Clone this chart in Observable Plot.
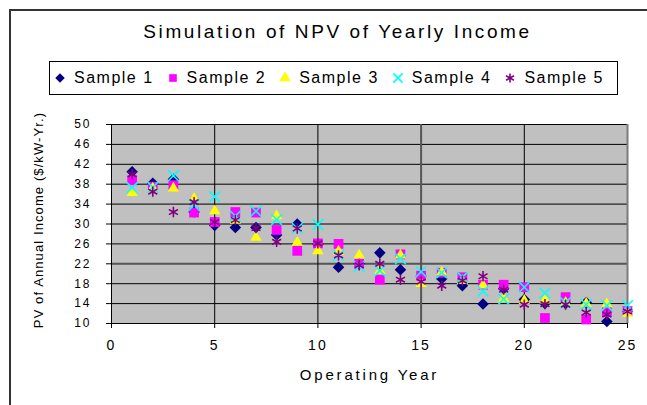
<!DOCTYPE html>
<html>
<head>
<meta charset="utf-8">
<script src="https://cdn.jsdelivr.net/npm/d3@7"></script>
<script src="https://cdn.jsdelivr.net/npm/@observablehq/plot@0.6"></script>
<style>
  body { margin: 0; background: #fff; font-family: "Liberation Sans", Arial, sans-serif; }
  #wrap { position: relative; width: 647px; height: 405px; overflow: hidden; background: #fff; }
  #frame { position: absolute; left: 9px; top: 9px; width: 680px; height: 430px; border: 2px solid #333; box-sizing: border-box; }
  #title { position: absolute; left: 0; width: 675px; top: 22px; text-align: center; font-size: 19px; line-height: 19px; letter-spacing: 2.6px; color: #000; white-space: nowrap; }
  #legend { position: absolute; left: 49px; top: 61px; width: 569px; height: 34px; border: 1px solid #000; box-sizing: border-box; display: flex; align-items: center; padding-left: 4px; background: #fff; }
  .item { display: flex; align-items: center; margin-right: 13px; }
  .item svg { width: 12px; height: 12px; display: block; }
  .item span { margin-left: 8px; font-size: 16px; letter-spacing: 1.5px; white-space: nowrap; }
  #chart { position: absolute; left: 0; top: 99px; }
  #chart g[aria-label="x-axis tick label"] text { letter-spacing: 2px; }
  #chart g[aria-label="y-axis tick label"] text { letter-spacing: 2px; }
  #chart .ylab text { letter-spacing: 1.1px; }
  #chart .xlab text { letter-spacing: 2.8px; }
</style>
</head>
<body>
<div id="wrap">
  <div id="frame"></div>
  <div id="title"></div>
  <div id="legend"></div>
  <div id="chart"></div>
</div>
<script>
// ---- data ----
const years   = [1, 2, 3, 4, 5, 6, 7, 8, 9, 10, 11, 12, 13, 14, 15, 16, 17, 18, 19, 20, 21, 22, 23, 24, 25];
const sample1 = [40.5, 38.2, 39.0, 32.4, 29.7, 29.3, 29.3, 27.8, 30.0, 26.0, 21.3, 22.0, 24.2, 20.8, 19.5, 19.0, 17.6, 13.9, 17.0, 14.8, 14.0, 14.0, 14.2, 10.4, 12.5];
const sample2 = [38.8, 37.5, 37.8, 32.3, 30.4, 32.4, 32.3, 28.8, 24.6, 26.1, 26.0, 22.0, 18.8, 23.9, 19.6, 20.2, 19.3, 17.8, 17.8, 17.3, 11.1, 15.3, 10.8, 12.3, 12.5];
const sample3 = [36.3, 37.2, 37.2, 35.1, 32.6, 30.7, 27.3, 31.6, 26.3, 24.6, 24.5, 23.7, 20.6, 23.7, 18.0, 20.3, 18.6, 17.7, 15.0, 14.6, 14.7, 14.2, 14.0, 13.9, 12.0];
const sample4 = [37.3, 37.4, 39.7, 33.8, 35.5, 31.6, 32.6, 30.9, 29.1, 29.9, 23.7, 21.5, 20.6, 23.0, 20.4, 20.2, 19.3, 16.5, 14.9, 17.3, 16.1, 14.2, 13.8, 13.6, 13.6];
const sample5 = [40.0, 36.5, 32.4, 34.4, 30.4, 30.8, 29.2, 26.4, 29.1, 26.1, 23.7, 21.7, 22.0, 18.8, 18.4, 17.6, 18.6, 19.5, 16.8, 13.8, 13.9, 13.8, 12.2, 11.8, 12.4];
const seriesNames = ["Sample 1", "Sample 2", "Sample 3", "Sample 4", "Sample 5"];
const yTicks = [10, 14, 18, 22, 26, 30, 34, 38, 42, 46, 50];
const xTicks = [0, 5, 10, 15, 20, 25];
const xGrid  = [5, 10, 15, 20];
const titleText = "Simulation of NPV of Yearly Income";
const xLabel = "Operating Year";
const yLabel = "PV of Annual Income ($/kW-Yr.)";

// ---- styles ----
const seriesValues = [sample1, sample2, sample3, sample4, sample5];
const styles = [
  {symbol: "diamond2", fill: "#000080", stroke: "none", r: 5.2, sym: d3.symbolDiamond2, filled: true},
  {symbol: "square",   fill: "#ff00ff", stroke: "none", r: 5.5, sym: d3.symbolSquare, filled: true},
  {symbol: "triangle", fill: "#ffff00", stroke: "none", r: 4.2, sym: d3.symbolTriangle, filled: true},
  {symbol: "times",    fill: "none", stroke: "#00ffff", strokeWidth: 1.6, r: 4.9, sym: d3.symbolTimes, filled: false},
  {symbol: "asterisk", fill: "none", stroke: "#800080", strokeWidth: 1.6, r: 4.9, sym: d3.symbolAsterisk, filled: false}
];

document.getElementById("title").textContent = titleText;

// legend
const legend = document.getElementById("legend");
seriesNames.forEach((name, i) => {
  const st = styles[i];
  const item = document.createElement("div");
  item.className = "item";
  const p = d3.symbol(st.sym, 4.3 * 4.3 * Math.PI)();
  item.innerHTML = `<svg viewBox="-6 -6 12 12"><path d="${p}" fill="${st.filled ? st.fill : "none"}" stroke="${st.filled ? "none" : st.stroke}" stroke-width="${st.filled ? 0 : 1.6}"/></svg><span>${name}</span>`;
  legend.appendChild(item);
});

const dotMarks = seriesValues.map((vals, i) => {
  const st = styles[i];
  const pts = years.map((x, j) => ({x, y: vals[j]}));
  const o = {x: "x", y: "y", symbol: st.symbol, r: st.r, fill: st.fill, stroke: st.stroke};
  if (st.strokeWidth) o.strokeWidth = st.strokeWidth;
  return Plot.dot(pts, o);
});

const chart = Plot.plot({
  width: 647,
  height: 306,
  marginLeft: 111,
  marginRight: 20,
  marginTop: 25,
  marginBottom: 82,
  x: {domain: [0, 25]},
  y: {domain: [10, 50]},
  style: {fontFamily: "'Liberation Sans', Arial, sans-serif", background: "transparent", color: "#000", overflow: "visible"},
  marks: [
    Plot.frame({fill: "#c0c0c0", stroke: "none"}),
    Plot.ruleY(yTicks, {stroke: d => d === 22 ? "#555" : "#000", strokeWidth: d => d === 22 ? 2 : 1}),
    Plot.ruleX(xGrid, {stroke: d => d === 15 ? "#555" : "#000", strokeWidth: d => d === 15 ? 2 : 1}),
    Plot.ruleX([25], {stroke: "#7a7a7a", strokeWidth: 2}),
    Plot.ruleX([0], {stroke: "#000"}),
    Plot.ruleY([10], {stroke: "#000"}),
    Plot.axisY({ticks: yTicks, tickSize: 5, tickPadding: 15, fontSize: 12, label: null, stroke: "#000"}),
    Plot.axisX({ticks: xTicks, tickSize: 5, tickPadding: 12, fontSize: 14, label: null, stroke: "#000"}),
    ...dotMarks,
    Plot.text([yLabel], {text: d => d, frameAnchor: "left", textAnchor: "middle", lineAnchor: "middle", rotate: -90, dx: -73, dy: -4, fontSize: 13, className: "ylab", fill: "#000"}),
    Plot.text([xLabel], {text: d => d, frameAnchor: "bottom", textAnchor: "middle", lineAnchor: "middle", dy: 52, fontSize: 15, className: "xlab", fill: "#000"})
  ]
});
document.getElementById("chart").appendChild(chart);
</script>
</body>
</html>
